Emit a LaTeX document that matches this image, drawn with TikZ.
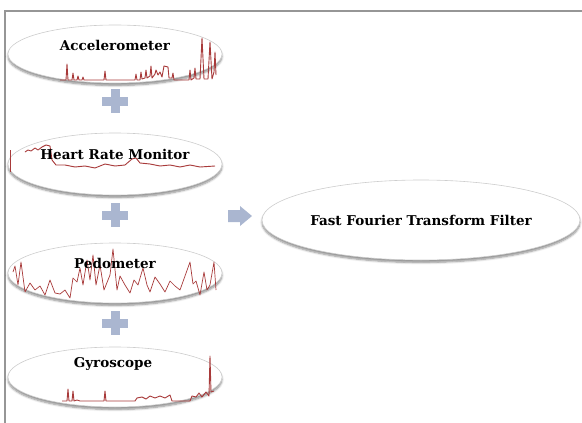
\documentclass[tikz,border=0pt]{standalone}
\usepackage{fontspec}
\setmainfont{DejaVu Serif}
\usetikzlibrary{shapes.geometric,shadows.blur}
\definecolor{sig}{RGB}{168,58,58}
\definecolor{plusc}{RGB}{170,182,208}
\definecolor{framec}{RGB}{150,150,150}
\definecolor{ovaledge}{RGB}{205,205,205}
\begin{document}
\begin{tikzpicture}[x=1pt,y=-1pt,
 oval/.style={ellipse, draw=ovaledge, line width=0.6pt, fill=white, inner sep=0pt,
   blur shadow={shadow xshift=0pt, shadow yshift=-2.5pt, shadow blur steps=6, shadow opacity=45}},
 lbl/.style={font=\bfseries\fontsize{13.5}{16}\selectfont, inner sep=1pt},
 sigline/.style={draw=sig, line width=0.9pt, line join=round},
 pics/plussign/.style={code={
   \fill[plusc] (-4.5,-12) rectangle (4.5,12);
   \fill[plusc] (-13,-4.5) rectangle (13,4.5);}},
 pics/arrowsign/.style={code={
   \fill[plusc] (-12,-6) -- (0,-6) -- (0,-10) -- (12,0) -- (0,10) -- (0,6) -- (-12,6) -- cycle;}},
]
\useasboundingbox (0,0) rectangle (582,423);
\draw[framec, line width=1.5pt] (5,423) -- (5,11) -- (582,11);

% ovals
\node[oval, minimum width=214pt, minimum height=58pt] (e1) at (115,54) {};
\node[oval, minimum width=214pt, minimum height=62pt] (e2) at (115,164) {};
\node[oval, minimum width=214pt, minimum height=60pt] (e3) at (115,273) {};
\node[oval, minimum width=214pt, minimum height=60pt] (e4) at (115,377) {};
\node[oval, minimum width=318pt, minimum height=80pt] (fft) at (421,220) {};

% signals
\draw[sigline] (60,80) -- (66,80) -- (67,64) -- (68,80) -- (72,80) -- (73,73) -- (74,80) -- (77,80) -- (78,76) -- (79,80) -- (82,80) -- (83,77) -- (84,80) -- (104,80) -- (105,71) -- (106,80) -- (135,80) -- (136,74) -- (137,80) -- (140,80) -- (141,72) -- (142,79) -- (145,78) -- (146,70) -- (147,78) -- (150,76) -- (151,66) -- (152,78) -- (155,74) -- (156,70) -- (158,75) -- (160,72) -- (162,77) -- (164,66) -- (168,67) -- (169,78) -- (172,78) -- (173,73) -- (174,80) -- (189,80) -- (190,70) -- (191,80) -- (194,78) -- (195,68) -- (196,79) -- (200,79) -- (202,38) -- (204,79) -- (208,79) -- (210,42) -- (212,79) -- (214,72) -- (215,52) -- (216,75);

\draw[sigline, line width=0.6pt] (10,150) -- (10,172);
\draw[sigline] (25,152) -- (28,150) -- (31,151) -- (35,148) -- (38,150) -- (42,147) -- (46,145) -- (50,146) -- (51,153) -- (52,160) -- (56,165) -- (65,165) -- (75,167) -- (85,166) -- (95,168) -- (105,164) -- (115,166) -- (125,165) -- (132,159) -- (136,158) -- (140,163) -- (150,164) -- (160,166) -- (170,165) -- (180,167) -- (190,165) -- (200,167) -- (215,166);

\draw[sigline, line width=0.7pt] (13,272) -- (15,266) -- (18,285) -- (21,262) -- (25,292) -- (30,283) -- (35,290) -- (40,286) -- (45,295) -- (50,280) -- (55,293) -- (60,294) -- (65,290) -- (70,298) -- (73,278) -- (77,282) -- (80,268) -- (83,285) -- (87,260) -- (90,280) -- (93,255) -- (96,285) -- (100,265) -- (104,290) -- (110,275) -- (113,249) -- (117,290) -- (120,276) -- (125,285) -- (130,293) -- (134,280) -- (138,285) -- (143,268) -- (147,285) -- (150,292) -- (155,277) -- (160,284) -- (165,292) -- (170,281) -- (175,286) -- (180,290) -- (185,276) -- (190,262) -- (193,284) -- (196,281) -- (200,295) -- (204,272) -- (207,290) -- (210,285) -- (214,262) -- (216,290);

\draw[sigline] (62,401) -- (67,401) -- (68,389) -- (69,401) -- (72,401) -- (73,391) -- (74,401) -- (77,400) -- (80,401) -- (104,401) -- (105,391) -- (106,401) -- (135,401) -- (137,398) -- (142,397) -- (146,399) -- (150,396) -- (155,398) -- (160,396) -- (165,398) -- (170,395) -- (172,401) -- (190,401) -- (192,396) -- (196,397) -- (199,393) -- (202,397) -- (206,392) -- (209,396) -- (210,356) -- (211,392) -- (214,391);

% texts
\node[lbl] (t1) at (115,45) {Accelerometer};
\node[lbl] (t2) at (115,154) {Heart Rate Monitor};
\node[lbl] (t3) at (115,263) {Pedometer};
\node[lbl] (t4) at (113,364) {Gyroscope};
\node[lbl] (t5) at (421,220) {Fast Fourier Transform Filter};

% plus signs and arrow
\pic (p1) at (115,101) {plussign};
\pic (p2) at (115,215) {plussign};
\pic (p3) at (115,323) {plussign};
\pic (a1) at (240,216) {arrowsign};
\end{tikzpicture}
\end{document}
